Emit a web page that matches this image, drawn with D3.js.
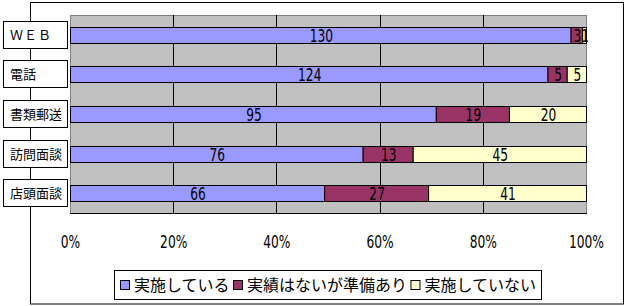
<!DOCTYPE html>
<html>
<head>
<meta charset="utf-8">
<script src="https://cdn.jsdelivr.net/npm/d3@7"></script>
<style>
  body { margin: 0; background: #fff; }
  .num { font-family: "DejaVu Sans", sans-serif; font-size: 18px; fill: #000; }
  .jp { font-family: "Noto Sans CJK JP", sans-serif; fill: #000; }
</style>
</head>
<body>
<div id="chart"></div>
<script>
// data
var categories = ["ＷＥＢ", "電話", "書類郵送", "訪問面談", "店頭面談"];
var seriesNames = ["実施している", "実績はないが準備あり", "実施していない"];
var implemented = [130, 124, 95, 76, 66];
var prepared = [3, 5, 19, 13, 27];
var notImplemented = [1, 5, 20, 45, 41];
var tickValues = [0, 0.2, 0.4, 0.6, 0.8, 1.0];

var colors = ["#9999FF", "#993366", "#FFFFCC"];
var squeeze = 0.68; // narrow digits like the original

var svg = d3.select("#chart").append("svg")
  .attr("width", 626)
  .attr("height", 306);

// outer frame
svg.append("rect")
  .attr("x", 30.5).attr("y", 2.5)
  .attr("width", 593).attr("height", 301.5)
  .attr("fill", "#fff").attr("stroke", "#000").attr("stroke-width", 1);

var plot = {left: 70, top: 15, right: 586, bottom: 213};

var x = d3.scaleLinear().domain([0, 1]).range([plot.left, plot.right]);
var y = d3.scaleBand().domain(categories).range([plot.top, plot.bottom]).paddingInner(0.6).paddingOuter(0.3);

// plot area
svg.append("rect")
  .attr("x", plot.left + 0.5).attr("y", plot.top + 0.5)
  .attr("width", plot.right - plot.left).attr("height", plot.bottom - plot.top)
  .attr("fill", "#C0C0C0").attr("stroke", "#808080");

// gridlines
svg.selectAll(".grid")
  .data(tickValues.slice(1, -1))
  .enter().append("line")
  .attr("x1", function(d) { return Math.round(x(d)) + 0.5; })
  .attr("x2", function(d) { return Math.round(x(d)) + 0.5; })
  .attr("y1", plot.top)
  .attr("y2", plot.bottom)
  .attr("stroke", "#000");

// bottom axis line
svg.append("line")
  .attr("x1", plot.left).attr("x2", plot.right + 1)
  .attr("y1", plot.bottom + 0.5).attr("y2", plot.bottom + 0.5)
  .attr("stroke", "#000");

// stacked data
var rows = categories.map(function(c, i) {
  return {cat: c, vals: [implemented[i], prepared[i], notImplemented[i]]};
});
var stacked = d3.stack().keys([0, 1, 2]).value(function(d, k) {
  var total = d3.sum(d.vals);
  return d.vals[k] / total;
})(rows);

var layers = svg.selectAll(".layer")
  .data(stacked)
  .enter().append("g")
  .attr("fill", function(d, i) { return colors[i]; });

layers.selectAll("rect")
  .data(function(d) { return d; })
  .enter().append("rect")
  .attr("x", function(d) { return x(d[0]) + 0.5; })
  .attr("y", function(d) { return Math.round(y(d.data.cat)) + 0.5; })
  .attr("width", function(d) { return x(d[1]) - x(d[0]); })
  .attr("height", Math.round(y.bandwidth()))
  .attr("stroke", "#000");

// value labels
stacked.forEach(function(layer, k) {
  svg.selectAll(".lbl" + k)
    .data(layer)
    .enter().append("text")
    .attr("class", "num")
    .attr("transform", function(d) {
      var cx = (x(d[0]) + x(d[1])) / 2 + 1;
      var cy = Math.round(y(d.data.cat)) + y.bandwidth() / 2 + 1;
      return "translate(" + cx + "," + cy + ") scale(" + squeeze + ",1)";
    })
    .attr("dy", "0.36em")
    .attr("text-anchor", "middle")
    .text(function(d) { return d.data.vals[k]; });
});

// category label boxes
var catG = svg.selectAll(".cat")
  .data(categories)
  .enter().append("g")
  .attr("transform", function(d) { return "translate(0," + Math.round(y(d) + y.bandwidth() / 2) + ")"; });

catG.append("rect")
  .attr("x", 3.5).attr("y", -13.5)
  .attr("width", 64).attr("height", 27)
  .attr("fill", "#fff").attr("stroke", "#000");

catG.append("text")
  .attr("class", "jp")
  .attr("x", 10)
  .attr("y", 0)
  .attr("dy", "0.36em")
  .style("font-size", "13px")
  .style("letter-spacing", function(d, i) { return i === 0 ? "1px" : null; })
  .text(function(d) { return d; });

// x-axis tick labels
var xAxis = d3.axisBottom(x)
  .tickValues(tickValues)
  .tickFormat(d3.format(".0%"))
  .tickSize(0)
  .tickPadding(0);

var axisG = svg.append("g")
  .attr("transform", "translate(0,235)")
  .call(xAxis);
axisG.select(".domain").remove();
axisG.selectAll("text")
  .attr("class", "num")
  .attr("dy", "0.71em")
  .attr("fill", "#000")
  .attr("transform", "scale(" + squeeze + ",1)")
  .style("font-size", "18px");

// legend
svg.append("rect")
  .attr("x", 114.5).attr("y", 270.5)
  .attr("width", 427).attr("height", 29)
  .attr("fill", "#fff").attr("stroke", "#000");

var legendSpan = 416; // from first swatch to end of last text
var legend = svg.append("g").attr("transform", "translate(120,285)");
var items = seriesNames.map(function(name, i) {
  var item = legend.append("g");
  item.append("rect")
    .attr("x", 0.5).attr("y", -4.5)
    .attr("width", 9).attr("height", 9)
    .attr("fill", colors[i]).attr("stroke", "#000");
  var t = item.append("text")
    .attr("class", "jp")
    .attr("x", 14)
    .attr("y", 0)
    .attr("dy", "0.36em")
    .style("font-size", "16px")
    .text(name);
  return {g: item, w: 14 + t.node().getComputedTextLength()};
});
var gap = (legendSpan - d3.sum(items, function(d) { return d.w; })) / (items.length - 1);
var cursor = 0;
items.forEach(function(it) {
  it.g.attr("transform", "translate(" + cursor + ",0)");
  cursor += it.w + gap;
});
</script>
</body>
</html>
